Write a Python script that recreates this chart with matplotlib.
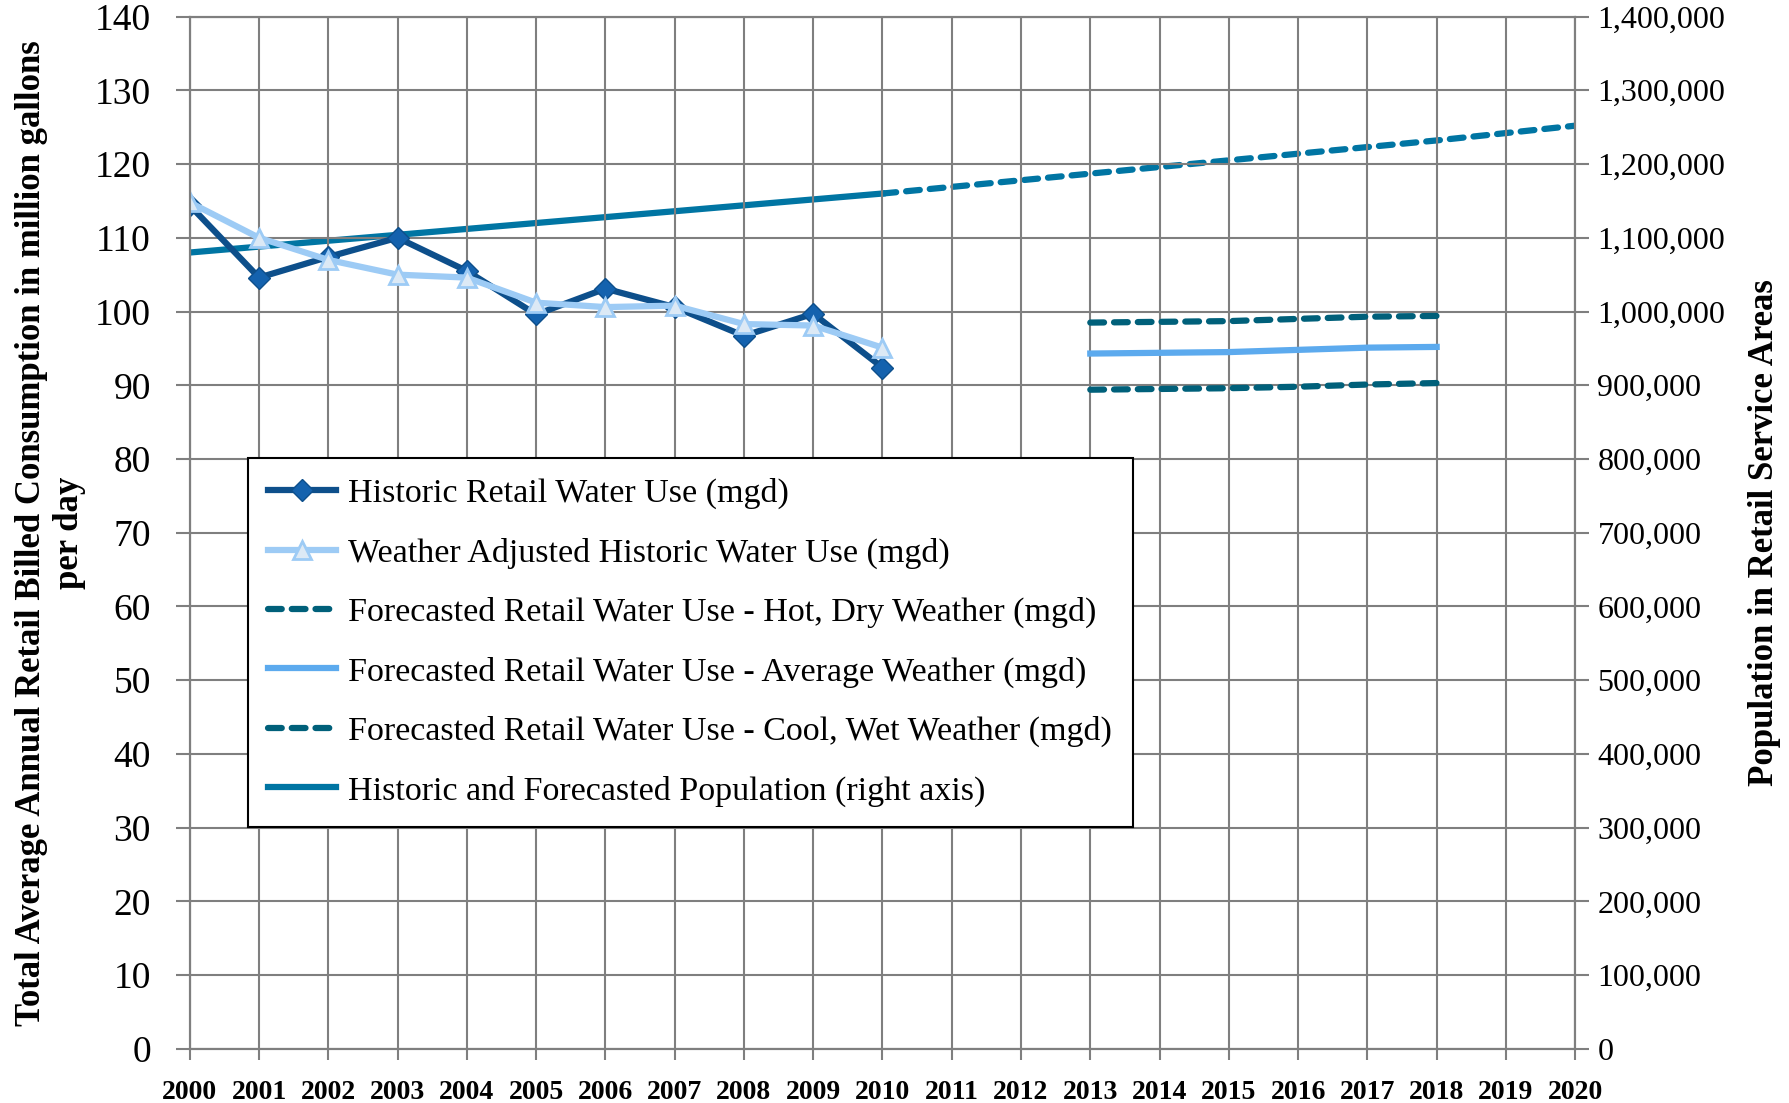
import numpy as np
import matplotlib.pyplot as plt
from matplotlib.ticker import FuncFormatter

# historic data 2000-2010
years_hist = [2000, 2001, 2002, 2003, 2004, 2005, 2006, 2007, 2008, 2009, 2010]
historic_use = [114.4, 104.6, 107.4, 110.0, 105.5, 99.6, 103.1, 100.6, 96.7, 99.7, 92.4]
weather_adj = [114.8, 110.0, 107.0, 105.0, 104.6, 101.2, 100.6, 100.8, 98.3, 98.1, 95.1]

# forecast 2013-2018
years_fc = [2013, 2014, 2015, 2016, 2017, 2018]
fc_hot = [98.5, 98.6, 98.7, 99.0, 99.3, 99.4]
fc_avg = [94.3, 94.4, 94.5, 94.8, 95.1, 95.2]
fc_cool = [89.4, 89.5, 89.6, 89.8, 90.1, 90.3]

# population (right axis)
years_pop_hist = [2000, 2001, 2002, 2003, 2004, 2005, 2006, 2007, 2008, 2009, 2010]
pop_hist = [1080000, 1088000, 1096000, 1104000, 1112000, 1120000,
            1128000, 1136000, 1144000, 1152000, 1160000]
years_pop_fc = [2010, 2011, 2012, 2013, 2014, 2015, 2016, 2017, 2018, 2019, 2020]
pop_fc = [1160000, 1169000, 1178000, 1187000, 1196000, 1205000,
          1214000, 1223000, 1232000, 1242000, 1252000]

plt.rcParams['font.family'] = ['Liberation Serif', 'DejaVu Serif']

c_hist = '#0D4F8B'
c_hist_mk = '#1462AE'
c_adj = '#9DCBF5'
c_fc = '#00607A'
c_avg = '#5CAAEE'
c_pop = '#0075A3'
c_grid = '#7F7F7F'

fig = plt.figure(figsize=(17.9, 11.03), dpi=100)
ax = fig.add_axes([0.106, 0.049, 0.774, 0.936])
ax2 = ax.twinx()

ax.set_zorder(ax2.get_zorder() + 1)
ax.patch.set_visible(False)

l1, = ax.plot(years_hist, historic_use, color=c_hist, lw=4.5, marker='D', ms=11,
              mfc=c_hist_mk, mec=c_hist, label='Historic Retail Water Use (mgd)')
l2, = ax.plot(years_hist, weather_adj, color=c_adj, lw=4.5, marker='^', ms=13,
              mfc='#DCE9F5', mec=c_adj, mew=2,
              label='Weather Adjusted Historic Water Use (mgd)')
l3, = ax.plot(years_fc, fc_hot, color=c_fc, lw=4.5, ls=(0, (2.2, 1.6)),
              dash_capstyle='round',
              label='Forecasted Retail Water Use - Hot, Dry Weather (mgd)')
l4, = ax.plot(years_fc, fc_avg, color=c_avg, lw=4.5,
              label='Forecasted Retail Water Use - Average Weather (mgd)')
l5, = ax.plot(years_fc, fc_cool, color=c_fc, lw=4.5, ls=(0, (2.2, 1.6)),
              dash_capstyle='round',
              label='Forecasted Retail Water Use - Cool, Wet Weather (mgd)')
l6, = ax2.plot(years_pop_hist, pop_hist, color=c_pop, lw=4.5,
               label='Historic and Forecasted Population (right axis)')
ax2.plot(years_pop_fc, pop_fc, color=c_pop, lw=4.5, ls=(0, (2.2, 1.6)),
         dash_capstyle='round')

ax.set_xlim(2000, 2020)
ax.set_ylim(0, 140)
ax2.set_ylim(0, 1400000)
ax.set_xticks(range(2000, 2021))
ax.set_yticks(range(0, 141, 10))
ax2.set_yticks(range(0, 1400001, 100000))
ax2.yaxis.set_major_formatter(FuncFormatter(lambda v, p: '{:,.0f}'.format(v)))

ax.grid(True, color=c_grid, lw=1.5)
ax.set_axisbelow(True)
for a in (ax, ax2):
    for s in a.spines.values():
        s.set_color(c_grid)
        s.set_linewidth(1.5)

ax.tick_params(axis='x', direction='out', length=8, width=1.5, color=c_grid,
               labelsize=20, pad=14)
for t in ax.get_xticklabels():
    t.set_fontweight('bold')
ax.tick_params(axis='y', direction='out', length=10, width=1.5, color=c_grid,
               labelsize=27, pad=18)
ax2.tick_params(axis='y', direction='out', length=10, width=1.5, color=c_grid,
                labelsize=23, pad=6)

ax.set_ylabel('Total Average Annual Retail Billed Consumption in million gallons\nper day',
              fontsize=25, fontweight='bold', labelpad=6)
ax2.set_ylabel('Population in Retail Service Areas', fontsize=25,
               fontweight='bold', labelpad=16)

leg = ax.legend(handles=[l1, l2, l3, l4, l5, l6], loc='lower left',
                bbox_to_anchor=(0.042, 0.215), borderaxespad=0, fontsize=24.5,
                frameon=True, fancybox=False, edgecolor='black', framealpha=1,
                handlelength=2.0, labelspacing=0.83, borderpad=0.6,
                handletextpad=0.35)
leg.get_frame().set_linewidth(1.5)

plt.savefig('out.png', dpi=100)
